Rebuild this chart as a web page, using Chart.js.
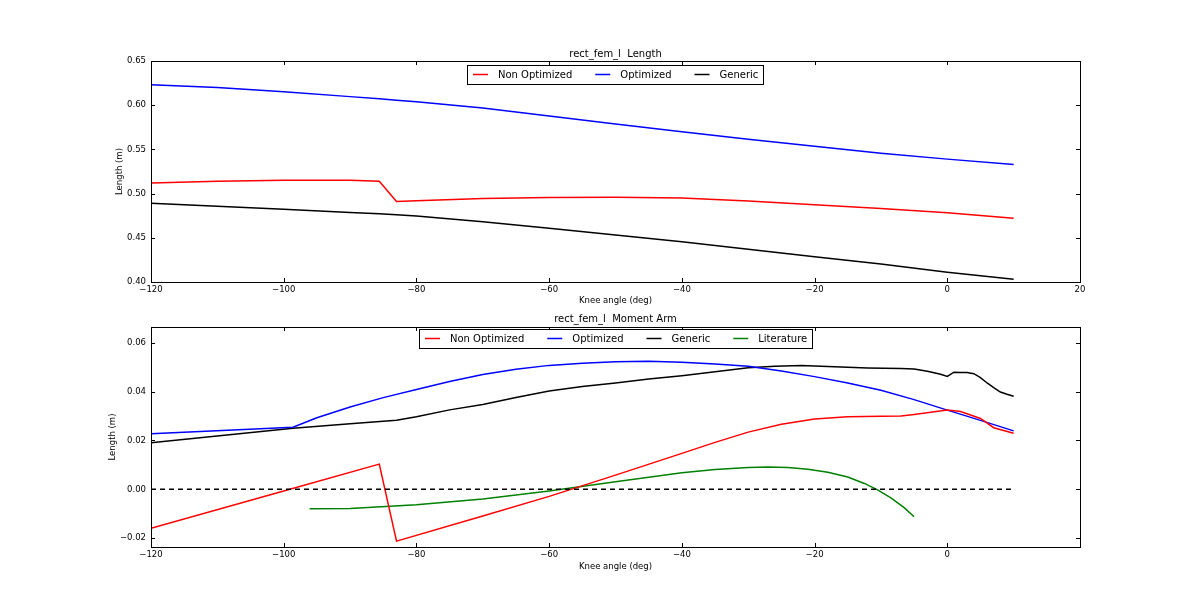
<!DOCTYPE html>
<html lang="en">
<head>
    <meta charset="UTF-8">
    <title>rect_fem_l</title>
    <style>
        body {
            margin: 0;
            background-color: #ffffff;
        }
        #page {
            position: relative;
            width: 1200px;
            height: 609px;
            overflow: hidden;
        }
        .panel {
            position: absolute;
            left: 0;
        }
    </style>
</head>
<body>
    <div id="page">
        <div class="panel" style="top:0px"><canvas id="lengthChart" width="1200" height="310"></canvas></div>
        <div class="panel" style="top:310px"><canvas id="momentChart" width="1200" height="299"></canvas></div>
    </div>

    <script src="https://cdn.jsdelivr.net/npm/chart.js@4.4.3/dist/chart.umd.min.js"></script>

    <script>
        // ---- top panel: muscle length ----
        const lenAngles = [-120, -110, -100, -90, -85.6, -83, -80, -70, -60, -50, -40, -30, -20, -10, 0, 10];
        const lenNonOpt = [0.512, 0.514, 0.515, 0.515, 0.514, 0.491, 0.492, 0.4945, 0.4955, 0.4958, 0.495, 0.4915, 0.4875, 0.4832, 0.4782, 0.472];
        const lenOpt = [0.623, 0.620, 0.6153, 0.6097, 0.6072, 0.6056, 0.604, 0.5968, 0.5878, 0.5787, 0.570, 0.5614, 0.5535, 0.5456, 0.539, 0.533];
        const lenGeneric = [0.489, 0.4858, 0.4822, 0.4787, 0.4771, 0.4761, 0.4747, 0.4682, 0.4607, 0.4532, 0.4456, 0.437, 0.4286, 0.4204, 0.411, 0.403];

        // ---- bottom panel: moment arm ----
        const maNonOptAngles = [-120, -100, -85.6, -83, -70, -60, -50, -40, -35, -30, -25, -20, -15, -10, -7, -5, 0, 2, 5, 7, 10];
        const maNonOpt = [-0.0159, -0.0007, 0.0103, -0.0212, -0.0109, -0.0029, 0.0058, 0.0147, 0.0192, 0.0234, 0.0266, 0.0288, 0.0297, 0.0299, 0.0300, 0.0306, 0.0324, 0.0318, 0.029, 0.0252, 0.0229];
        const maOptAngles = [-120, -98.6, -95, -90, -85, -80, -75, -70, -65, -60, -55, -50, -45, -40, -35, -30, -25, -20, -15, -10, -5, 0, 5, 10];
        const maOpt = [0.0227, 0.0254, 0.0293, 0.0337, 0.0375, 0.0408, 0.0441, 0.047, 0.0491, 0.0507, 0.0516, 0.0522, 0.0524, 0.052, 0.0513, 0.0503, 0.0484, 0.0461, 0.0435, 0.0405, 0.0367, 0.0324, 0.0282, 0.0239];
        const maGenericAngles = [-120, -98.6, -90, -83, -80, -75, -70, -65, -60, -55, -50, -45, -40, -35, -30, -26, -22, -17, -12, -7, -5, -3, -1, 0, 1, 2, 3, 4, 5, 6, 7, 8, 9, 10];
        const maGeneric = [0.019, 0.025, 0.0268, 0.0283, 0.0297, 0.0325, 0.0347, 0.0376, 0.0402, 0.0421, 0.0435, 0.0451, 0.0465, 0.0481, 0.0497, 0.0503, 0.0506, 0.0501, 0.0496, 0.0494, 0.0492, 0.0483, 0.0471, 0.0462, 0.0479, 0.0478, 0.0478, 0.0473, 0.0457, 0.0435, 0.0416, 0.0398, 0.0389, 0.0381];
        const maLitAngles = [-96.1, -90, -80, -70, -60, -50, -40, -35, -30, -27, -24, -21, -18, -15, -12.5, -10.5, -8.5, -6.5, -5];
        const maLit = [-0.008, -0.0078, -0.0063, -0.004, -0.0007, 0.0031, 0.0068, 0.0081, 0.0089, 0.0091, 0.0089, 0.0082, 0.007, 0.005, 0.0024, -0.0002, -0.0035, -0.0075, -0.0112];
        const zeroAngles = [-120, 10];
        const zeroLine = [0, 0];

        // ---- ticks ----
        const xTicks = [-120, -100, -80, -60, -40, -20, 0, 20];
        const lenTicks = [0.40, 0.45, 0.50, 0.55, 0.60, 0.65];
        const maTicks = [-0.02, 0.00, 0.02, 0.04, 0.06];

        const FONT = "'DejaVu Sans', sans-serif";

        function pts(xs, ys) {
            return xs.map((x, i) => ({ x: x, y: ys[i] }));
        }
        function minus(s) {
            return s.replace('-', '\u2212');
        }
        function line(label, xs, ys, color, dash) {
            return {
                label: label,
                data: pts(xs, ys),
                borderColor: color,
                borderWidth: 1.5,
                borderDash: dash || [],
                pointRadius: 0,
                fill: false,
                tension: 0
            };
        }

        // frame, inward ticks, titles and the in-axes legend (matplotlib look)
        const decor = {
            id: 'decor',
            afterDraw(chart, args, opts) {
                const ctx = chart.ctx;
                const a = chart.chartArea;
                const xs = chart.scales.x, ys = chart.scales.y;
                ctx.save();
                ctx.strokeStyle = '#000';
                ctx.lineWidth = 1;
                ctx.strokeRect(Math.round(a.left) + 0.5, Math.round(a.top) + 0.5,
                    Math.round(a.right - a.left), Math.round(a.bottom - a.top));
                ctx.beginPath();
                xs.ticks.forEach(t => {
                    const p = Math.round(xs.getPixelForValue(t.value)) + 0.5;
                    ctx.moveTo(p, a.bottom); ctx.lineTo(p, a.bottom - 4);
                    ctx.moveTo(p, a.top); ctx.lineTo(p, a.top + 4);
                });
                ys.ticks.forEach(t => {
                    const p = Math.round(ys.getPixelForValue(t.value)) + 0.5;
                    ctx.moveTo(a.left, p); ctx.lineTo(a.left + 4, p);
                    ctx.moveTo(a.right, p); ctx.lineTo(a.right - 4, p);
                });
                ctx.stroke();

                const cx = (a.left + a.right) / 2;
                ctx.fillStyle = '#000';
                ctx.font = '10px ' + FONT;
                ctx.textAlign = 'center';
                ctx.textBaseline = 'alphabetic';
                ctx.fillText(opts.title, cx, a.top - opts.titleGap);

                ctx.font = '8.5px ' + FONT;
                ctx.textBaseline = 'middle';
                ctx.fillText('Knee angle (deg)', cx, a.bottom + opts.xlabelGap);
                ctx.save();
                ctx.translate(a.left - opts.ylabelGap, (a.top + a.bottom) / 2);
                ctx.rotate(-Math.PI / 2);
                ctx.fillText('Length (m)', 0, 0);
                ctx.restore();

                // legend
                const items = chart.data.datasets.filter(d => d.label);
                ctx.font = '10px ' + FONT;
                const widths = items.map(d => 25 + ctx.measureText(d.label).width);
                const total = widths.reduce((s, w) => s + w, 0) + 23 * (items.length - 1) + 11;
                let x = Math.round(cx - total / 2);
                const top = a.top + opts.legendGap, h = 19;
                ctx.fillStyle = '#fff';
                ctx.fillRect(x, top, total, h);
                ctx.strokeStyle = '#000';
                ctx.strokeRect(x + 0.5, Math.round(top) + 0.5, Math.round(total), h);
                x += 6;
                ctx.textAlign = 'left';
                items.forEach((d, i) => {
                    const my = top + h / 2;
                    ctx.strokeStyle = d.borderColor;
                    ctx.lineWidth = 1.5;
                    ctx.beginPath();
                    ctx.moveTo(x, my); ctx.lineTo(x + 15, my);
                    ctx.stroke();
                    ctx.fillStyle = '#000';
                    ctx.fillText(d.label, x + 25, my + 0.5);
                    x += widths[i] + 23;
                });
                ctx.restore();
            }
        };

        function makeOptions(yMin, yMax, yTicks, pad, hideLast, decorOpts) {
            return {
                responsive: false,
                animation: false,
                devicePixelRatio: 1,
                layout: { padding: pad },
                scales: {
                    x: {
                        type: 'linear',
                        min: -120,
                        max: 20,
                        grid: { display: false, drawTicks: false },
                        border: { display: false },
                        afterBuildTicks: s => { s.ticks = xTicks.map(v => ({ value: v })); },
                        afterFit: s => { s.height = 18; },
                        ticks: {
                            padding: 3,
                            color: '#000',
                            font: { family: FONT, size: 8.5 },
                            maxRotation: 0,
                            callback: v => (hideLast && v === 20) ? '' : minus(String(v))
                        }
                    },
                    y: {
                        min: yMin,
                        max: yMax,
                        grid: { display: false, drawTicks: false },
                        border: { display: false },
                        afterBuildTicks: s => { s.ticks = yTicks.map(v => ({ value: v })); },
                        afterFit: s => { s.width = 151; },
                        ticks: {
                            padding: 5,
                            color: '#000',
                            font: { family: FONT, size: 8.5 },
                            callback: v => minus((Math.abs(v) < 1e-9 ? 0 : v).toFixed(2))
                        }
                    }
                },
                plugins: {
                    legend: { display: false },
                    tooltip: { enabled: false },
                    decor: decorOpts
                }
            };
        }

        new Chart(document.getElementById('lengthChart'), {
            type: 'line',
            data: {
                datasets: [
                    line('Non Optimized', lenAngles, lenNonOpt, '#ff0000'),
                    line('Optimized', lenAngles, lenOpt, '#0000ff'),
                    line('Generic', lenAngles, lenGeneric, '#000000')
                ]
            },
            options: makeOptions(0.40, 0.65, lenTicks, { left: 0, right: 120, top: 61, bottom: 10 }, false,
                { title: 'rect_fem_l  Length', titleGap: 4, xlabelGap: 19, ylabelGap: 31, legendGap: 4 }),
            plugins: [decor]
        });

        const zero = line('', zeroAngles, zeroLine, '#000000', [5, 4]);

        new Chart(document.getElementById('momentChart'), {
            type: 'line',
            data: {
                datasets: [
                    zero,
                    line('Non Optimized', maNonOptAngles, maNonOpt, '#ff0000'),
                    line('Optimized', maOptAngles, maOpt, '#0000ff'),
                    line('Generic', maGenericAngles, maGeneric, '#000000'),
                    line('Literature', maLitAngles, maLit, '#008000')
                ]
            },
            options: makeOptions(-0.0236, 0.0664, maTicks, { left: 0, right: 120, top: 17, bottom: 44 }, true,
                { title: 'rect_fem_l  Moment Arm', titleGap: 5, xlabelGap: 20, ylabelGap: 38, legendGap: 2 }),
            plugins: [decor]
        });
    </script>
</body>
</html>
